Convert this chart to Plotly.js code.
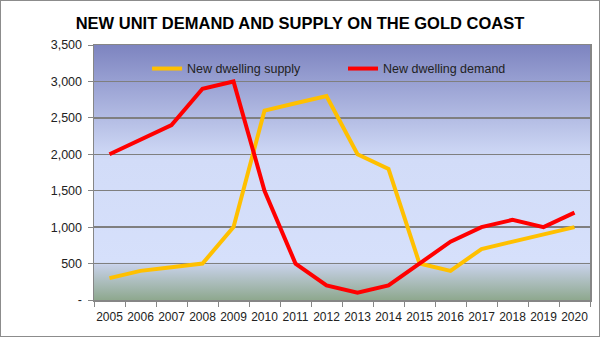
<!DOCTYPE html>
<html>
<head>
<meta charset="utf-8">
<script src="https://cdn.plot.ly/plotly-3.0.1.min.js"></script>
<style>
html,body{margin:0;padding:0;background:#fff;}
#chart{width:598px;height:335px;border:1px solid #8c8c8c;}
</style>
</head>
<body>
<div id="chart"></div>
<script>
const years = ["2005","2006","2007","2008","2009","2010","2011","2012","2013","2014","2015","2016","2017","2018","2019","2020"];
const supply = [300,400,450,500,1000,2600,2700,2800,2000,1800,500,400,700,800,900,1000];
const demand = [2000,2200,2400,2900,3000,1500,500,200,100,200,500,800,1000,1100,1000,1200];
const yTickVals = [0,500,1000,1500,2000,2500,3000,3500];
const yTickText = ["-","500","1,000","1,500","2,000","2,500","3,000","3,500"];

const svg = "<svg xmlns='http://www.w3.org/2000/svg' width='10' height='100' preserveAspectRatio='none'>" +
  "<defs><linearGradient id='g' x1='0' y1='0' x2='0' y2='1'>" +
  "<stop offset='0' stop-color='#7D84C0'/>" +
  "<stop offset='0.45' stop-color='#D2DCF8'/>" +
  "<stop offset='0.85' stop-color='#D6E0FB'/>" +
  "<stop offset='0.865' stop-color='#C6D0E6'/>" +
  "<stop offset='1' stop-color='#8EA88E'/>" +
  "</linearGradient></defs><rect width='10' height='100' fill='url(#g)'/></svg>";
const bgSrc = "data:image/svg+xml;charset=utf-8," + encodeURIComponent(svg);

const font = "Liberation Sans, Arial, sans-serif";
const legFont = {family: font, size: 12.5, color: "#222"};

const traces = [
  {x: years, y: supply, type: "scatter", mode: "lines", name: "New dwelling supply",
   line: {color: "#FFC000", width: 4}, legend: "legend"},
  {x: years, y: demand, type: "scatter", mode: "lines", name: "New dwelling demand",
   line: {color: "#FF0000", width: 4}, legend: "legend2"}
];

const layout = {
  width: 598, height: 335,
  margin: {l: 93, r: 9, t: 44, b: 36},
  paper_bgcolor: "#ffffff",
  plot_bgcolor: "rgba(0,0,0,0)",
  font: {family: font, size: 12, color: "#222"},
  title: {text: "<b>NEW UNIT DEMAND AND SUPPLY ON THE GOLD COAST</b>",
          font: {family: font, size: 16.5, color: "#000"},
          x: 0.5, xanchor: "center", y: 0.935, yanchor: "middle"},
  showlegend: true,
  legend: {orientation: "h", x: 0.107, y: 0.965, xanchor: "left", yanchor: "top",
           bgcolor: "rgba(0,0,0,0)", font: legFont, itemwidth: 30},
  legend2: {orientation: "h", x: 0.502, y: 0.965, xanchor: "left", yanchor: "top",
           bgcolor: "rgba(0,0,0,0)", font: legFont, itemwidth: 30},
  xaxis: {type: "category", range: [-0.5, 15.5], tickson: "boundaries", tickangle: 0,
          ticks: "outside", ticklen: 5, tickcolor: "#868686", ticklabelstandoff: 5,
          showline: true, linecolor: "#868686", linewidth: 1.5, mirror: true,
          showgrid: false, tickfont: {family: font, size: 12, color: "#222"}, fixedrange: true},
  yaxis: {range: [0, 3500], tickvals: yTickVals, ticktext: yTickText,
          ticks: "outside", ticklen: 5, tickcolor: "#868686", ticklabelstandoff: 3,
          showline: true, linecolor: "#868686", linewidth: 1.5, mirror: true,
          showgrid: true, gridcolor: "#7f7f7f", gridwidth: 1.5, zeroline: false,
          tickfont: {family: font, size: 12.5, color: "#222"}, fixedrange: true},
  images: [{source: bgSrc, xref: "paper", yref: "paper", x: 0, y: 1, sizex: 1, sizey: 1,
            xanchor: "left", yanchor: "top", sizing: "stretch", layer: "below"}]
};

Plotly.newPlot("chart", traces, layout, {displayModeBar: false, staticPlot: true});
</script>
</body>
</html>
